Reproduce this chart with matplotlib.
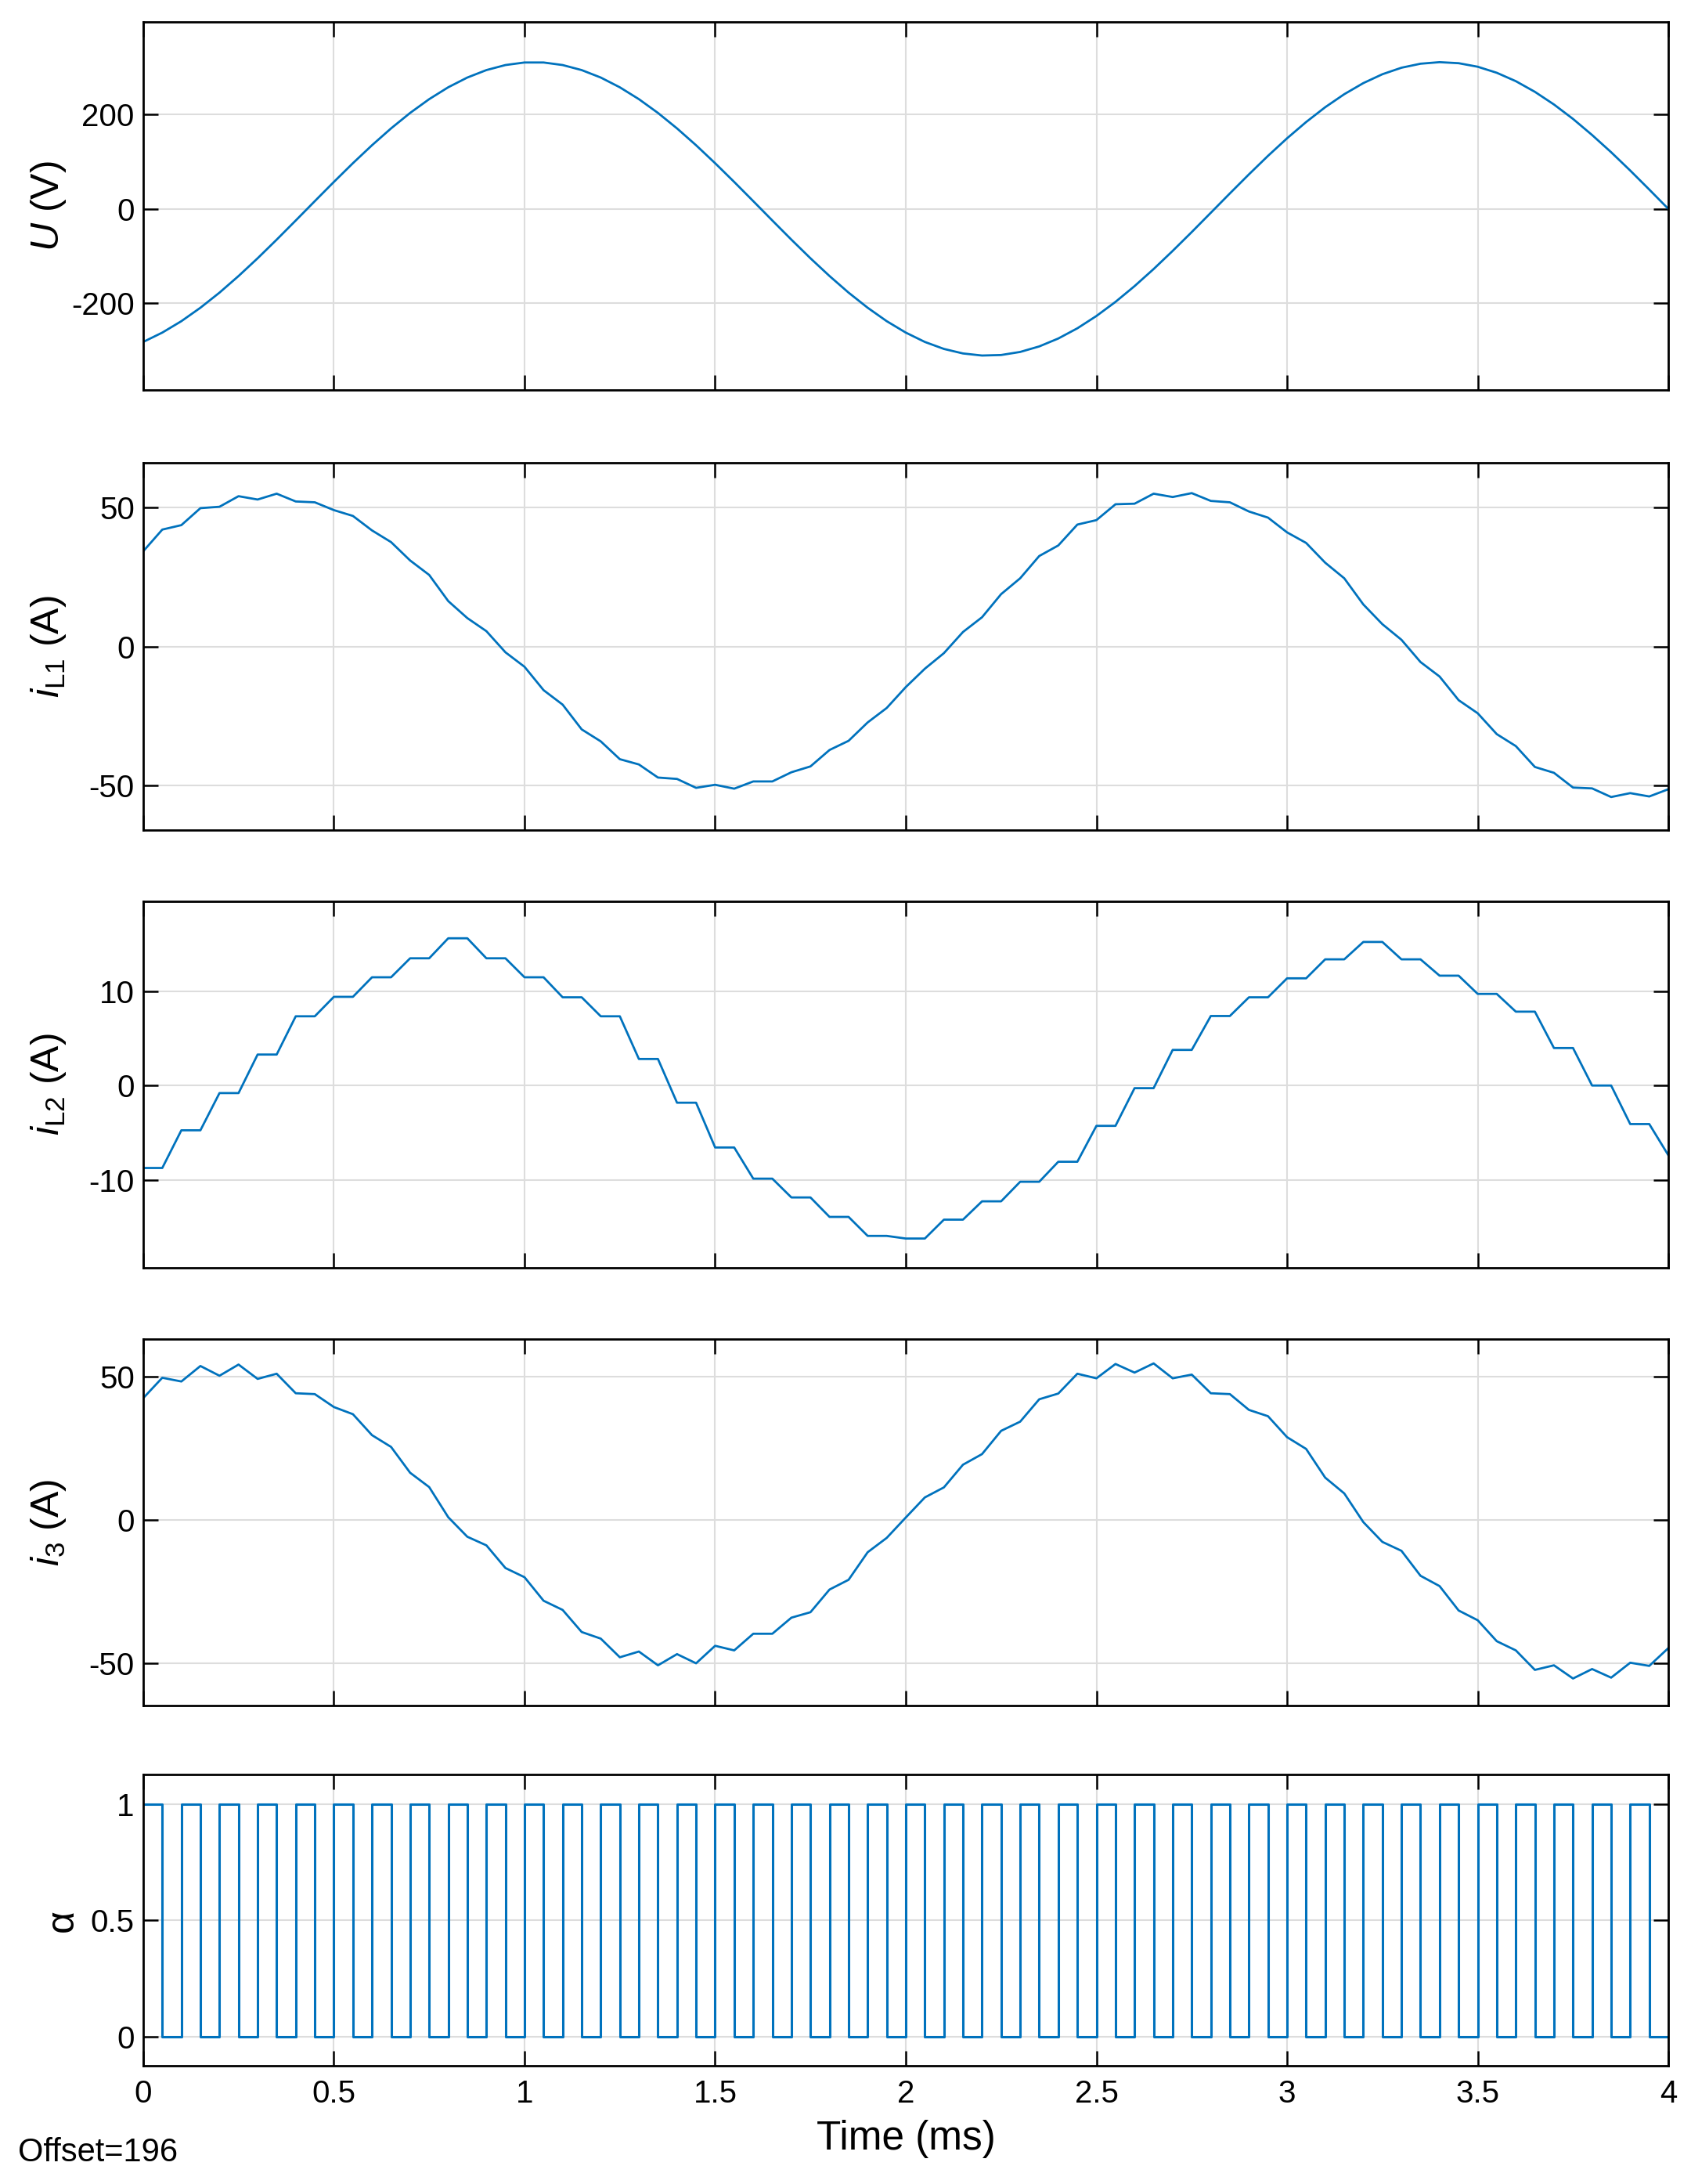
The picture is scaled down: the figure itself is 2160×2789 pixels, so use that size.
import numpy as np
import matplotlib
matplotlib.use("Agg")
import matplotlib.pyplot as plt

plt.rcParams["font.family"] = ["Liberation Sans", "DejaVu Sans"]
plt.rcParams["axes.unicode_minus"] = False
plt.rcParams["mathtext.fontset"] = "custom"
plt.rcParams["mathtext.rm"] = "Liberation Sans"
plt.rcParams["mathtext.it"] = "Liberation Sans:italic"

LINE = "#0072BD"

# sample times (ms), one sample every half switching period
t = np.arange(81) * 0.05

# grid voltage U (V)
u = [-282.0, -262.2, -238.0, -209.5, -177.5, -142.3, -104.7, -65.2, -24.6, 16.4,
     57.1, 96.9, 134.9, 170.6, 203.4, 232.6, 257.8, 278.4, 294.2, 304.9,
     310.3, 310.3, 304.9, 294.2, 278.4, 257.7, 232.6, 203.4, 170.6, 134.9,
     96.8, 57.1, 16.4, -24.6, -65.2, -104.7, -142.3, -177.5, -209.5, -238.0,
     -262.2, -282.0, -296.8, -306.4, -310.8, -309.7, -303.2, -291.5, -274.7, -253.1,
     -227.0, -197.1, -163.7, -127.5, -89.0, -49.1, -8.2, 32.8, 73.2, 112.4,
     149.6, 184.1, 215.5, 243.1, 266.6, 285.4, 299.2, 307.7, 311.0, 308.8,
     301.3, 288.5, 270.7, 248.1, 221.3, 190.7, 156.6, 120.1, 81.3, 41.0,
     0.0]

# inductor current i_L1 (A)
i_l1 = [34.2, 42.0, 43.6, 49.7, 50.2, 54.0, 52.8, 54.9, 52.1, 51.8,
        49.0, 46.9, 41.7, 37.5, 30.9, 25.7, 16.3, 10.2, 5.5, -2.1,
        -7.3, -15.7, -20.9, -29.8, -34.1, -40.5, -42.4, -47.1, -47.6, -50.8,
        -49.7, -51.1, -48.5, -48.5, -45.2, -43.1, -37.2, -33.9, -27.3, -22.1,
        -14.6, -8.0, -2.4, 5.2, 10.5, 18.8, 24.5, 32.5, 36.3, 43.8,
        45.4, 51.1, 51.3, 54.9, 53.7, 55.1, 52.3, 51.8, 48.5, 46.3,
        41.0, 37.2, 30.1, 24.5, 15.1, 8.0, 2.4, -5.6, -10.8, -19.3,
        -24.0, -31.5, -35.8, -43.3, -45.4, -50.7, -51.0, -54.1, -52.7, -53.9,
        -51.3]

# inductor current i_L2 (A)
i_l2 = [-8.73, -8.73, -4.74, -4.74, -0.80, -0.80, 3.28, 3.28, 7.33, 7.33,
        9.39, 9.39, 11.46, 11.46, 13.47, 13.47, 15.59, 15.59, 13.47, 13.47,
        11.46, 11.46, 9.34, 9.34, 7.33, 7.33, 2.81, 2.81, -1.82, -1.82,
        -6.56, -6.56, -9.86, -9.86, -11.85, -11.85, -13.91, -13.91, -15.92, -15.92,
        -16.2, -16.2, -14.2, -14.2, -12.26, -12.26, -10.19, -10.19, -8.07, -8.07,
        -4.27, -4.27, -0.28, -0.28, 3.77, 3.77, 7.36, 7.36, 9.34, 9.34,
        11.35, 11.35, 13.36, 13.36, 15.2, 15.2, 13.36, 13.36, 11.63, 11.63,
        9.70, 9.70, 7.82, 7.82, 3.97, 3.97, 0.0, 0.0, -4.08, -4.08,
        -7.38]

# output current i_3 (A)
i_3 = [42.5, 49.6, 48.3, 53.7, 50.3, 54.2, 49.2, 51.0, 44.2, 43.9,
       39.4, 36.9, 29.6, 25.5, 16.5, 11.5, 1.0, -5.8, -8.8, -16.7,
       -19.9, -28.1, -31.3, -39.0, -41.3, -47.8, -45.8, -50.6, -46.7, -49.9,
       -43.8, -45.4, -39.6, -39.6, -34.0, -32.1, -24.2, -20.8, -11.2, -6.2,
       0.9, 7.9, 11.4, 19.3, 23.0, 31.1, 34.3, 42.1, 44.1, 51.0,
       49.4, 54.4, 51.4, 54.6, 49.4, 50.7, 44.2, 43.9, 38.4, 36.2,
       28.9, 24.8, 14.8, 9.3, -0.7, -7.6, -10.7, -19.4, -23.0, -31.5,
       -34.9, -42.2, -45.4, -52.2, -50.6, -55.2, -51.9, -54.9, -49.7, -50.8,
       -44.6]

# switching signal alpha
alpha = [1, 0, 1, 0, 1, 0, 1, 0, 1, 0, 1, 0, 1, 0, 1, 0, 1, 0, 1, 0,
         1, 0, 1, 0, 1, 0, 1, 0, 1, 0, 1, 0, 1, 0, 1, 0, 1, 0, 1, 0,
         1, 0, 1, 0, 1, 0, 1, 0, 1, 0, 1, 0, 1, 0, 1, 0, 1, 0, 1, 0,
         1, 0, 1, 0, 1, 0, 1, 0, 1, 0, 1, 0, 1, 0, 1, 0, 1, 0, 1, 0,
         0]

x_ticks = [0, 0.5, 1, 1.5, 2, 2.5, 3, 3.5, 4]
x_tick_labels = ["0", "0.5", "1", "1.5", "2", "2.5", "3", "3.5", "4"]

panels = [
    (u, r"$\mathit{U}$ (V)", (-384, 396), [-200, 0, 200], ["-200", "0", "200"], "-"),
    (i_l1, r"$\mathit{i}_{\mathrm{L1}}$ (A)", (-66, 66), [-50, 0, 50], ["-50", "0", "50"], "-"),
    (i_l2, r"$\mathit{i}_{\mathrm{L2}}$ (A)", (-19.3, 19.5), [-10, 0, 10], ["-10", "0", "10"], "-"),
    (i_3, r"$\mathit{i}_{3}$ (A)", (-64.6, 63.1), [-50, 0, 50], ["-50", "0", "50"], "-"),
    (alpha, "α", (-0.126, 1.128), [0, 0.5, 1], ["0", "0.5", "1"], "steps-post"),
]

rects = [
    [0.0847, 0.8214, 0.9019, 0.1685],
    [0.0847, 0.6199, 0.9019, 0.1682],
    [0.0847, 0.4195, 0.9019, 0.1678],
    [0.0847, 0.2191, 0.9019, 0.1678],
    [0.0847, 0.0541, 0.9019, 0.1334],
]

fig = plt.figure(figsize=(21.6, 27.89), dpi=100)

for n, (vals, label, ylim, yt, ytl, style) in enumerate(panels):
    ax = fig.add_axes(rects[n])
    if style == "steps-post":
        ax.plot(t, vals, color=LINE, lw=2.2, drawstyle="steps-post")
    else:
        ax.plot(t, vals, color=LINE, lw=2.0)
    ax.set_xlim(0, 4)
    ax.set_ylim(*ylim)
    ax.set_xticks(x_ticks)
    ax.set_yticks(yt)
    ax.set_yticklabels(ytl)
    ax.grid(True, color="#dddddd", lw=1.5)
    ax.set_axisbelow(True)
    ax.tick_params(direction="in", top=True, right=True, length=14, width=1.8,
                   labelsize=29, pad=8)
    for s in ax.spines.values():
        s.set_linewidth(2.0)
    ax.set_ylabel(label, fontsize=36)
    if n < 4:
        ax.yaxis.set_label_coords(-0.062, 0.5)
        ax.tick_params(labelbottom=False)
    else:
        ax.yaxis.set_label_coords(-0.053, 0.5)
        ax.set_xticklabels(x_tick_labels)
        ax.tick_params(axis="x", pad=12)
        ax.set_xlabel("Time (ms)", fontsize=37, labelpad=10)
    ax.yaxis.label.set_va("center")

fig.text(23 / 2160, 1 - 2749 / 2789, "Offset=196", fontsize=30, va="center", ha="left")

fig.savefig("out.png", dpi=100)
